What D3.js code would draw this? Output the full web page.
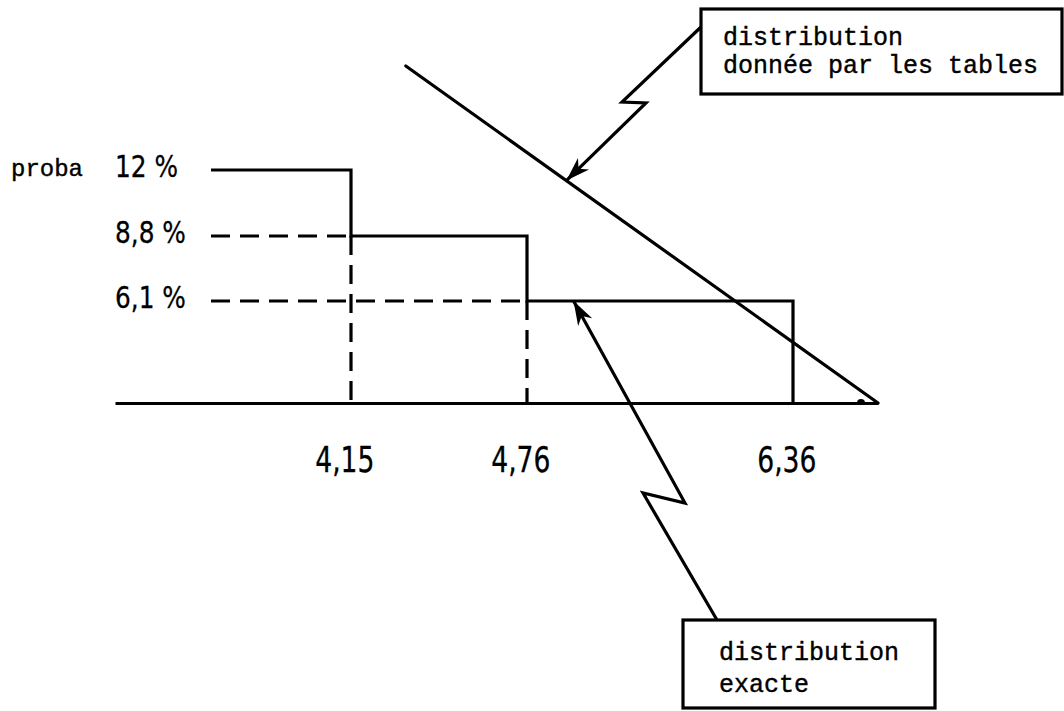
<!DOCTYPE html>
<html><head><meta charset="utf-8">
<script src="https://cdn.jsdelivr.net/npm/d3@7"></script>
<style>body{margin:0;background:#fff}</style></head>
<body><svg id="c" width="1064" height="711"></svg>
<script>
// ---- data ----
const yLevels = [12, 8.8, 6.1];                 // probabilités (%)
const yLabels = ["12 %", "8,8 %", "6,1 %"];
const xBreaks = [4.15, 4.76, 6.36];
const xLabels = ["4,15", "4,76", "6,36"];
const stepStart = 3.4;
const axisRange = [3.0, 7.0];
const tablesLine = [{x: 4.34, y: 17}, {x: 7.0, y: 0}];
const axisLabel = "proba";
const boxTables = ["distribution", "donnée par les tables"];
const boxExacte = ["distribution", "exacte"];
const exactArrowX = 5.04;   // point visé sur la distribution exacte
const tablesArrowT = 0.34;  // position relative sur la droite des tables

// ---- scales (schematic, piecewise) ----
const svg = d3.select("#c");
const x = d3.scaleLinear()
  .domain([axisRange[0], stepStart, ...xBreaks, axisRange[1]])
  .range([115, 211, 351, 527, 793, 878]);
const y = d3.scaleLinear()
  .domain([0, ...yLevels.slice().reverse(), tablesLine[0].y])
  .range([403, 301, 236, 170, 66]);

const ink = "#000";
const mono = "'Liberation Mono', 'Courier New', Courier, monospace";
const sans = "'DejaVu Sans', sans-serif";

// axis
const axis = d3.axisBottom(x).tickValues(xBreaks).tickSize(0).tickSizeOuter(0)
  .tickFormat((d, i) => xLabels[i]);
const gA = svg.append("g").attr("transform", `translate(0,${y(0)})`).call(axis);
gA.select(".domain").attr("stroke", ink).attr("stroke-width", 3.2);
gA.selectAll("text").attr("y", 69).attr("dy", 0).attr("x", -9)
  .attr("transform", "scale(0.74,1)")
  .attr("font-family", sans).attr("font-size", 36).attr("fill", ink)
  .attr("stroke", ink).attr("stroke-width", 0.3);

// dashed guides
const dash = "19,10";
const guides = [
  [[stepStart, yLevels[1]], [xBreaks[0], yLevels[1]]],
  [[stepStart, yLevels[2]], [xBreaks[1], yLevels[2]]],
  [[xBreaks[0], yLevels[1]], [xBreaks[0], 0]],
  [[xBreaks[1], yLevels[2]], [xBreaks[1], 0]]
];
const line = d3.line().x(d => x(d[0])).y(d => y(d[1]));
svg.selectAll(".guide").data(guides).join("path")
  .attr("d", line).attr("fill", "none").attr("stroke", ink)
  .attr("stroke-width", 3.2).attr("stroke-dasharray", dash);

// exact step distribution
const stepPts = [[stepStart, yLevels[0]], [xBreaks[0], yLevels[1]], [xBreaks[1], yLevels[2]], [xBreaks[2], 0]];
svg.append("path").attr("d", d3.line().x(d => x(d[0])).y(d => y(d[1])).curve(d3.curveStepAfter)(stepPts))
  .attr("fill", "none").attr("stroke", ink).attr("stroke-width", 3.2);

// tables distribution line
svg.append("path").attr("d", d3.line().x(d => x(d.x)).y(d => y(d.y))(tablesLine))
  .attr("fill", "none").attr("stroke", ink).attr("stroke-width", 3.2).attr("stroke-linecap", "round");
// small angle mark
const ex = x(tablesLine[1].x), ey = y(0);
svg.append("path").attr("d", `M${ex-21},${ey} a4,4 0 0 1 8,0 z`).attr("fill", ink);

// y labels
svg.append("text").attr("x", 11).attr("y", y(yLevels[0]) + 6).text(axisLabel)
  .attr("font-family", mono).attr("font-size", 24).attr("fill", ink)
  .attr("stroke", ink).attr("stroke-width", 0.4);
svg.selectAll(".yl").data(yLevels).join("text")
  .attr("transform", d => `translate(115,${y(d) + 7}) scale(0.8,1)`).text((d, i) => yLabels[i])
  .attr("font-family", sans).attr("font-size", 31).attr("fill", ink)
  .attr("stroke", ink).attr("stroke-width", 0.3);

// boxes
function box(x0, y0, w, h, lines, tx, ty, lh) {
  svg.append("rect").attr("x", x0).attr("y", y0).attr("width", w).attr("height", h)
    .attr("fill", "#fff").attr("stroke", ink).attr("stroke-width", 3.2);
  lines.forEach((t, i) => svg.append("text").attr("x", tx).attr("y", ty + i * lh).text(t)
    .attr("font-family", mono).attr("font-size", 25).attr("fill", ink)
    .attr("stroke", ink).attr("stroke-width", 0.4));
}
box(701, 9, 361, 85, boxTables, 723, 45, 28);
box(683, 620, 252, 88, boxExacte, 719, 660, 32);

// lightning arrows
function arrow(pts) {
  svg.append("path").attr("d", d3.line()(pts)).attr("fill", "none").attr("stroke", ink)
    .attr("stroke-width", 3.2).attr("stroke-linejoin", "miter");
  const [tx, ty] = pts[pts.length - 1], [px, py] = pts[pts.length - 2];
  const a = Math.atan2(ty - py, tx - px), L = 24, W = 8, N = 17;
  const ux = Math.cos(a), uy = Math.sin(a), nx = -uy, ny = ux;
  const p = [[tx, ty], [tx - ux*L + nx*W, ty - uy*L + ny*W], [tx - ux*N, ty - uy*N], [tx - ux*L - nx*W, ty - uy*L - ny*W]];
  svg.append("path").attr("d", "M" + p.map(q => q.join(",")).join("L") + "Z").attr("fill", ink);
}
const t0 = [x(tablesLine[0].x), y(tablesLine[0].y)], t1 = [x(tablesLine[1].x), y(tablesLine[1].y)];
const tipA = [t0[0] + (t1[0] - t0[0]) * tablesArrowT, t0[1] + (t1[1] - t0[1]) * tablesArrowT];
arrow([[701, 27], [622, 102], [646, 103], tipA]);
const tipB = [x(exactArrowX), y(yLevels[2])];
arrow([[717, 620], [643, 493], [685, 503], tipB]);
</script></body></html>
